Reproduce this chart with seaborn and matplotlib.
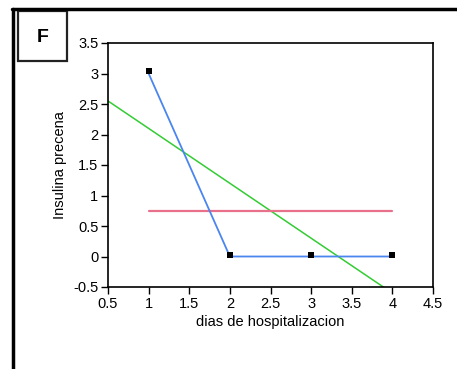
import matplotlib
matplotlib.use("Agg")
import matplotlib.pyplot as plt
import seaborn as sns
import numpy as np
import pandas as pd

# data
dias = [1, 2, 3, 4]
insulina = [3.04, 0.02, 0.02, 0.02]
ajuste_azul = [3.0, 0.0, 0.0, 0.0]
media_x = [1, 4]
xticks = [0.5, 1, 1.5, 2, 2.5, 3, 3.5, 4, 4.5]
yticks = [-0.5, 0, 0.5, 1, 1.5, 2, 2.5, 3, 3.5]
xticklabels = ["0.5", "1", "1.5", "2", "2.5", "3", "3.5", "4", "4.5"]
yticklabels = ["-0.5", "0", "0.5", "1", "1.5", "2", "2.5", "3", "3.5"]

sns.set_theme(style="white")
plt.rcParams['font.family'] = ['Liberation Sans', 'DejaVu Sans']

df = pd.DataFrame({"dias": dias, "insulina": insulina, "azul": ajuste_azul})
media = float(np.mean(ajuste_azul))
df_media = pd.DataFrame({"x": media_x, "y": [media, media]})

fig = plt.figure(figsize=(4.57, 3.69), dpi=100)
ax = fig.add_axes([108/457, 1-287/369, (433-108)/457, (287-43)/369])
ax.set_xlim(0.5, 4.5)
ax.set_ylim(-0.5, 3.5)

sns.regplot(data=df, x="dias", y="azul", ax=ax, scatter=False, ci=None,
            truncate=False, line_kws=dict(color="#33cc33", lw=1.1))
sns.lineplot(data=df_media, x="x", y="y", ax=ax, color="#e8708a", lw=1.6)
sns.lineplot(data=df, x="dias", y="azul", ax=ax, color="#4a85f0", lw=1.3)
sns.scatterplot(data=df, x="dias", y="insulina", ax=ax, marker="s", s=17,
                color="black", edgecolor="black", linewidth=0, zorder=5)

ax.set_xlim(0.5, 4.5)
ax.set_ylim(-0.5, 3.5)
ax.set_xticks(xticks)
ax.set_xticklabels(xticklabels)
ax.set_yticks(yticks)
ax.set_yticklabels(yticklabels)
ax.tick_params(axis="both", which="both", direction="out", length=5, width=1,
               color="black", labelsize=10.5, labelcolor="black", pad=2,
               bottom=True, left=True)
for s in ax.spines.values():
    s.set_color("black")
    s.set_linewidth(1.2)
ax.set_xlabel("dias de hospitalizacion", fontsize=10.5, color="black", labelpad=3)
ax.set_ylabel("Insulina precena", fontsize=10.5, color="black", labelpad=4)
ax.grid(False)

# outer frame
fig.add_artist(plt.Line2D([12/457, 1], [1-9/369, 1-9/369], color="black", lw=2.5,
                          transform=fig.transFigure))
fig.add_artist(plt.Line2D([13/457, 13/457], [0, 1-9/369], color="black", lw=2.5,
                          transform=fig.transFigure))
# panel label box
fig.add_artist(plt.Rectangle((18/457, 1-61/369), 49/457, 50/369, fill=False,
                             edgecolor="#222222", lw=1.6, transform=fig.transFigure))
fig.text(43/457, 1-37/369, "F", fontsize=14, fontweight="bold", ha="center",
         va="center", color="black")

fig.savefig("out.png", dpi=100)
